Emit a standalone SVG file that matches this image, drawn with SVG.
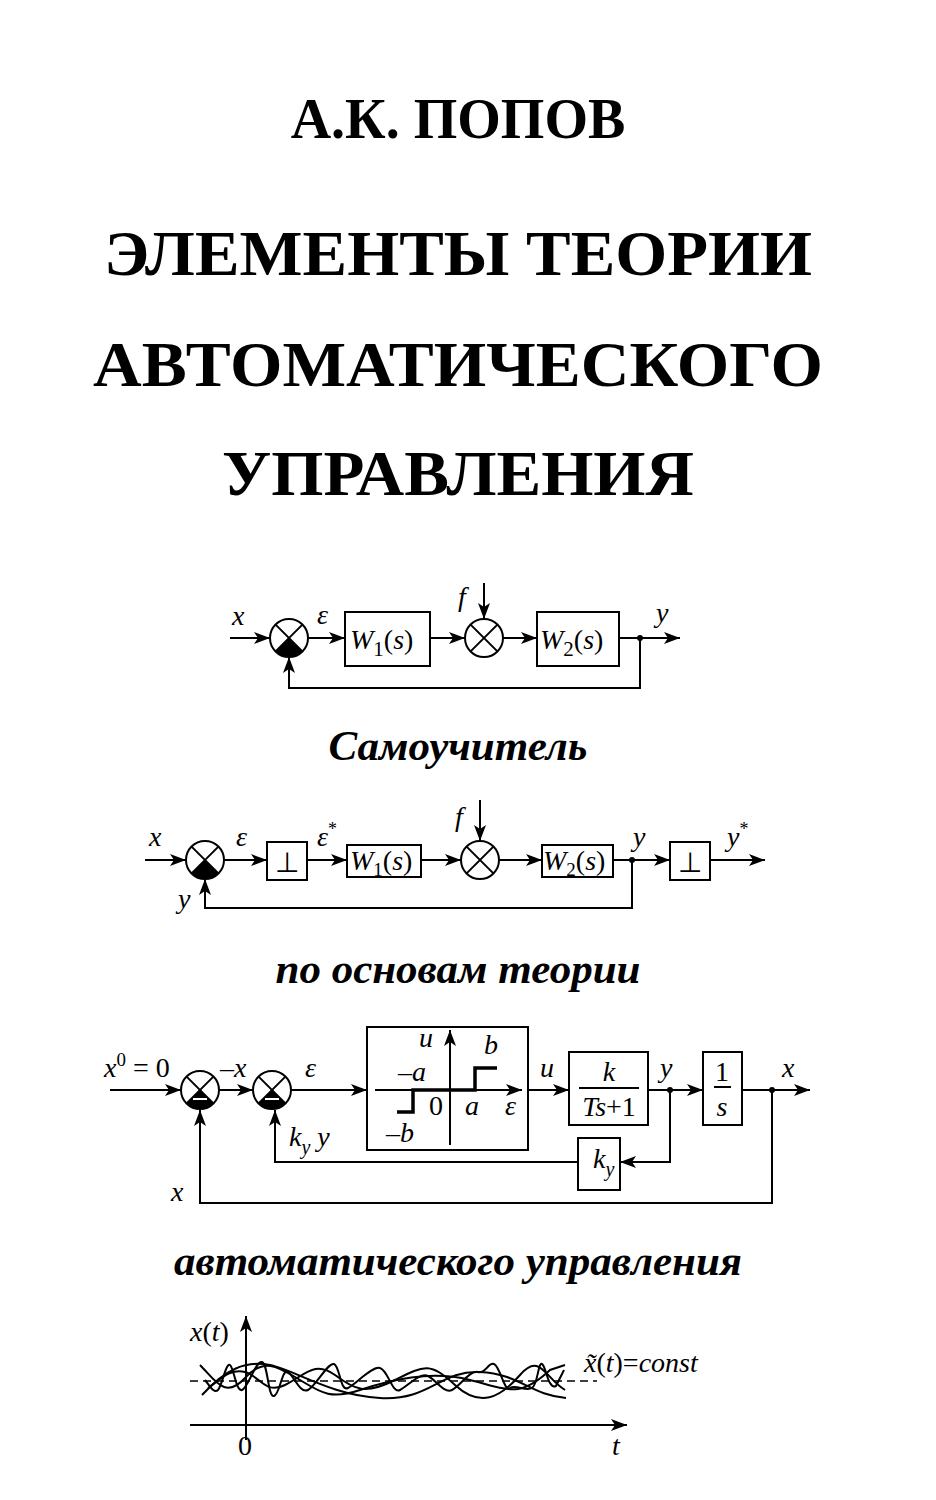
<svg xmlns="http://www.w3.org/2000/svg" width="936" height="1500" viewBox="0 0 936 1500">
<style>
.t{font-family:"Liberation Serif",serif;font-weight:bold;fill:#000;text-anchor:middle}
.s{font-family:"Liberation Serif",serif;font-weight:bold;font-style:italic;fill:#000;text-anchor:middle;font-size:43px}
.i{font-family:"Liberation Serif",serif;font-style:italic;font-size:28px;fill:#000}
.r{font-family:"Liberation Serif",serif;font-size:28px;fill:#000}
.l{stroke:#000;stroke-width:2;fill:none}
.b{stroke:#000;stroke-width:2;fill:#fff}
.w{stroke:#000;stroke-width:2;fill:none}
</style>
<defs>
<marker id="a" markerWidth="16" markerHeight="12" refX="16" refY="6" orient="auto" markerUnits="userSpaceOnUse"><path d="M0,0L16,6L0,12L4,6z" fill="#000"/></marker>
<g id="sum"><circle r="19" class="b"/><path d="M-13.4,-13.4L13.4,13.4M13.4,-13.4L-13.4,13.4" class="l"/><path d="M0,0L13.4,13.4A19,19 0 0 1 -13.4,13.4z" fill="#000"/></g>
<g id="sumx"><circle r="19" class="b"/><path d="M-13.4,-13.4L13.4,13.4M13.4,-13.4L-13.4,13.4" class="l"/></g>
<g id="summ"><circle r="19" class="b"/><path d="M-13.4,-13.4L13.4,13.4M13.4,-13.4L-13.4,13.4" class="l"/><path d="M0,0L13.4,13.4A19,19 0 0 1 -13.4,13.4z" fill="#000"/><path d="M-7,9H7" stroke="#fff" stroke-width="2"/></g>
</defs>
<rect width="936" height="1500" fill="#fff"/>
<g id="title">
<text class="t" x="458" y="138" font-size="56">А.К. ПОПОВ</text>
<text class="t" x="458" y="275" font-size="64" textLength="708" lengthAdjust="spacingAndGlyphs">ЭЛЕМЕНТЫ ТЕОРИИ</text>
<text class="t" x="458" y="386" font-size="64" textLength="730" lengthAdjust="spacingAndGlyphs">АВТОМАТИЧЕСКОГО</text>
<text class="t" x="458" y="495" font-size="64" textLength="472" lengthAdjust="spacingAndGlyphs">УПРАВЛЕНИЯ</text>
<text class="s" x="458" y="760">Самоучитель</text>
<text class="s" x="458" y="983">по основам теории</text>
<text class="s" x="458" y="1275">автоматического управления</text>
</g>
<!-- Diagram 1 -->
<g id="d1-nodes">
<g id="d1-sum1"><use href="#sum" x="289" y="638"/></g>
<g id="d1-w1"><rect x="345" y="612" width="85" height="54" class="b"/><text class="i" x="350" y="649" font-size="31">W<tspan font-style="normal" font-size="21" dy="7">1</tspan><tspan font-style="normal" dy="-7">(</tspan>s<tspan font-style="normal">)</tspan></text></g>
<g id="d1-sum2"><use href="#sumx" x="484" y="638"/></g>
<g id="d1-w2"><rect x="537" y="612" width="82" height="54" class="b"/><text class="i" x="540" y="649" font-size="31">W<tspan font-style="normal" font-size="21" dy="7">2</tspan><tspan font-style="normal" dy="-7">(</tspan>s<tspan font-style="normal">)</tspan></text></g>
<text class="i" x="232" y="625">x</text><text class="i" x="317" y="624">ε</text><text class="i" x="458" y="606">f</text><text class="i" x="656" y="622">y</text>
</g>
<g id="d1-conn">
<path class="l" d="M230,638H270" marker-end="url(#a)"/>
<path class="l" d="M308,638H345" marker-end="url(#a)"/>
<path class="l" d="M430,638H465" marker-end="url(#a)"/>
<path class="l" d="M484,583V619" marker-end="url(#a)"/>
<path class="l" d="M503,638H537" marker-end="url(#a)"/>
<path class="l" d="M619,638H680" marker-end="url(#a)"/>
<path class="l" d="M640,638V688H289V657" marker-end="url(#a)"/>
<circle cx="640" cy="638" r="3"/>
</g>
<!-- Diagram 2 -->
<g id="d2-nodes">
<g id="d2-sum1"><use href="#sum" x="205" y="860"/></g>
<g id="d2-q1"><rect x="267" y="842" width="40" height="38" class="b"/><text class="r" x="287" y="872" text-anchor="middle">⊥</text></g>
<g id="d2-w1"><rect x="347" y="845" width="74" height="32" class="b"/><text class="i" x="350" y="870">W<tspan font-style="normal" font-size="19" dy="6">1</tspan><tspan font-style="normal" dy="-6">(</tspan>s<tspan font-style="normal">)</tspan></text></g>
<g id="d2-sum2"><use href="#sumx" x="480" y="860"/></g>
<g id="d2-w2"><rect x="542" y="845" width="71" height="32" class="b"/><text class="i" x="543" y="870">W<tspan font-style="normal" font-size="19" dy="6">2</tspan><tspan font-style="normal" dy="-6">(</tspan>s<tspan font-style="normal">)</tspan></text></g>
<g id="d2-q2"><rect x="670" y="842" width="40" height="38" class="b"/><text class="r" x="690" y="872" text-anchor="middle">⊥</text></g>
<text class="i" x="149" y="846">x</text><text class="i" x="236" y="846">ε</text><text class="i" x="317" y="846">ε<tspan font-style="normal" font-size="18" dy="-11">*</tspan></text>
<text class="i" x="455" y="826">f</text><text class="i" x="633" y="846">y</text><text class="i" x="727" y="846">y<tspan font-style="normal" font-size="18" dy="-11">*</tspan></text>
<text class="i" x="178" y="908">y</text>
</g>
<g id="d2-conn">
<path class="l" d="M145,860H186" marker-end="url(#a)"/>
<path class="l" d="M224,860H267" marker-end="url(#a)"/>
<path class="l" d="M307,860H347" marker-end="url(#a)"/>
<path class="l" d="M421,860H461" marker-end="url(#a)"/>
<path class="l" d="M480,800V841" marker-end="url(#a)"/>
<path class="l" d="M499,860H542" marker-end="url(#a)"/>
<path class="l" d="M613,860H670" marker-end="url(#a)"/>
<path class="l" d="M710,860H765" marker-end="url(#a)"/>
<path class="l" d="M632,860V908H205V879" marker-end="url(#a)"/>
<circle cx="632" cy="860" r="3"/>
</g>
<!-- Diagram 3 -->
<g id="d3-nodes">
<g id="d3-sum1"><use href="#summ" x="200" y="1090"/></g>
<g id="d3-sum2"><use href="#summ" x="272" y="1090"/></g>
<g id="d3-relay"><rect x="367" y="1027" width="161" height="123" class="b"/>
<path class="l" d="M450,1145V1030" marker-end="url(#a)"/>
<path class="l" d="M375,1090H522" marker-end="url(#a)"/>
<path d="M397,1112H413V1090H475V1068H497" stroke="#000" stroke-width="3.5" fill="none"/>
<text class="i" x="419" y="1047">u</text><text class="i" x="484" y="1054">b</text><text class="i" x="398" y="1081"><tspan font-style="normal">–</tspan>a</text>
<text class="r" x="429" y="1115">0</text><text class="i" x="465" y="1115">a</text><text class="i" x="505" y="1115">ε</text><text class="i" x="386" y="1142"><tspan font-style="normal">–</tspan>b</text>
</g>
<g id="d3-k"><rect x="569" y="1052" width="79" height="73" class="b"/><text class="i" x="609" y="1081" text-anchor="middle">k</text><path class="l" d="M579,1088H639"/><text class="i" x="609" y="1116" text-anchor="middle">Ts<tspan font-style="normal">+1</tspan></text></g>
<g id="d3-int"><rect x="703" y="1052" width="39" height="73" class="b"/><text class="r" x="722" y="1081" text-anchor="middle">1</text><path class="l" d="M714,1087H731"/><text class="i" x="722" y="1116" text-anchor="middle">s</text></g>
<g id="d3-ky"><rect x="578" y="1138" width="42" height="52" class="b"/><text class="i" x="593" y="1168">k<tspan font-size="20" dy="8">y</tspan></text></g>
<text class="i" x="104" y="1077">x<tspan font-style="normal" font-size="19" dy="-11">0</tspan><tspan font-style="normal" dy="11"> = 0</tspan></text>
<text class="i" x="220" y="1077"><tspan font-style="normal">–</tspan>x</text><text class="i" x="305" y="1077">ε</text>
<text class="i" x="540" y="1077">u</text><text class="i" x="660" y="1077">y</text><text class="i" x="782" y="1077">x</text>
<text class="i" x="289" y="1146">k<tspan font-size="20" dy="8">y</tspan><tspan dy="-8"> y</tspan></text>
<text class="i" x="171" y="1201">x</text>
</g>
<g id="d3-conn">
<path class="l" d="M110,1090H181" marker-end="url(#a)"/>
<path class="l" d="M219,1090H253" marker-end="url(#a)"/>
<path class="l" d="M291,1090H367" marker-end="url(#a)"/>
<path class="l" d="M528,1090H569" marker-end="url(#a)"/>
<path class="l" d="M648,1090H703" marker-end="url(#a)"/>
<path class="l" d="M742,1090H810" marker-end="url(#a)"/>
<path class="l" d="M670,1090V1162H620" marker-end="url(#a)"/>
<path class="l" d="M578,1162H275V1110" marker-end="url(#a)"/>
<path class="l" d="M772,1090V1203H200V1110" marker-end="url(#a)"/>
<circle cx="670" cy="1090" r="3"/><circle cx="772" cy="1090" r="3"/>
</g>
<!-- Graph -->
<g id="graph">
<path class="l" d="M246,1440V1316" marker-end="url(#a)"/>
<path class="l" d="M190,1425H627" marker-end="url(#a)"/>
<path d="M190,1381H597" stroke="#000" stroke-width="1.5" stroke-dasharray="8,5"/>
<path class="w" d="M200,1365C215,1380 225,1400 245,1378S280,1368 300,1380S330,1400 360,1390S430,1370 470,1380S520,1398 550,1370L565,1365"/>
<path class="w" d="M202,1395C225,1370 245,1360 270,1365S330,1395 380,1398S440,1370 480,1372S530,1395 566,1398"/>
<path class="w" d="M205,1380C210,1386 214,1394 218,1390S226,1362 230,1365S236,1392 242,1390S256,1360 262,1362S268,1398 274,1396S282,1368 288,1372S300,1394 308,1390S328,1362 334,1364S340,1392 348,1388S372,1366 380,1368S392,1394 400,1390S420,1372 428,1376S444,1394 452,1390S470,1370 478,1372S488,1362 494,1364S504,1392 510,1388S526,1392 532,1388S538,1362 542,1364S548,1390 556,1386L564,1370"/>
<path class="w" d="M208,1388C220,1380 230,1368 245,1372S265,1395 285,1385S315,1360 335,1375S365,1395 395,1380S430,1362 455,1385S500,1398 520,1375S545,1378 565,1390"/>
<text class="i" x="190" y="1341">x<tspan font-style="normal">(</tspan>t<tspan font-style="normal">)</tspan></text>
<text class="i" x="584" y="1372">x̃<tspan font-style="normal">(</tspan>t<tspan font-style="normal">)=</tspan>const</text>
<text class="r" x="238" y="1455">0</text><text class="i" x="612" y="1455">t</text>
</g>
</svg>
